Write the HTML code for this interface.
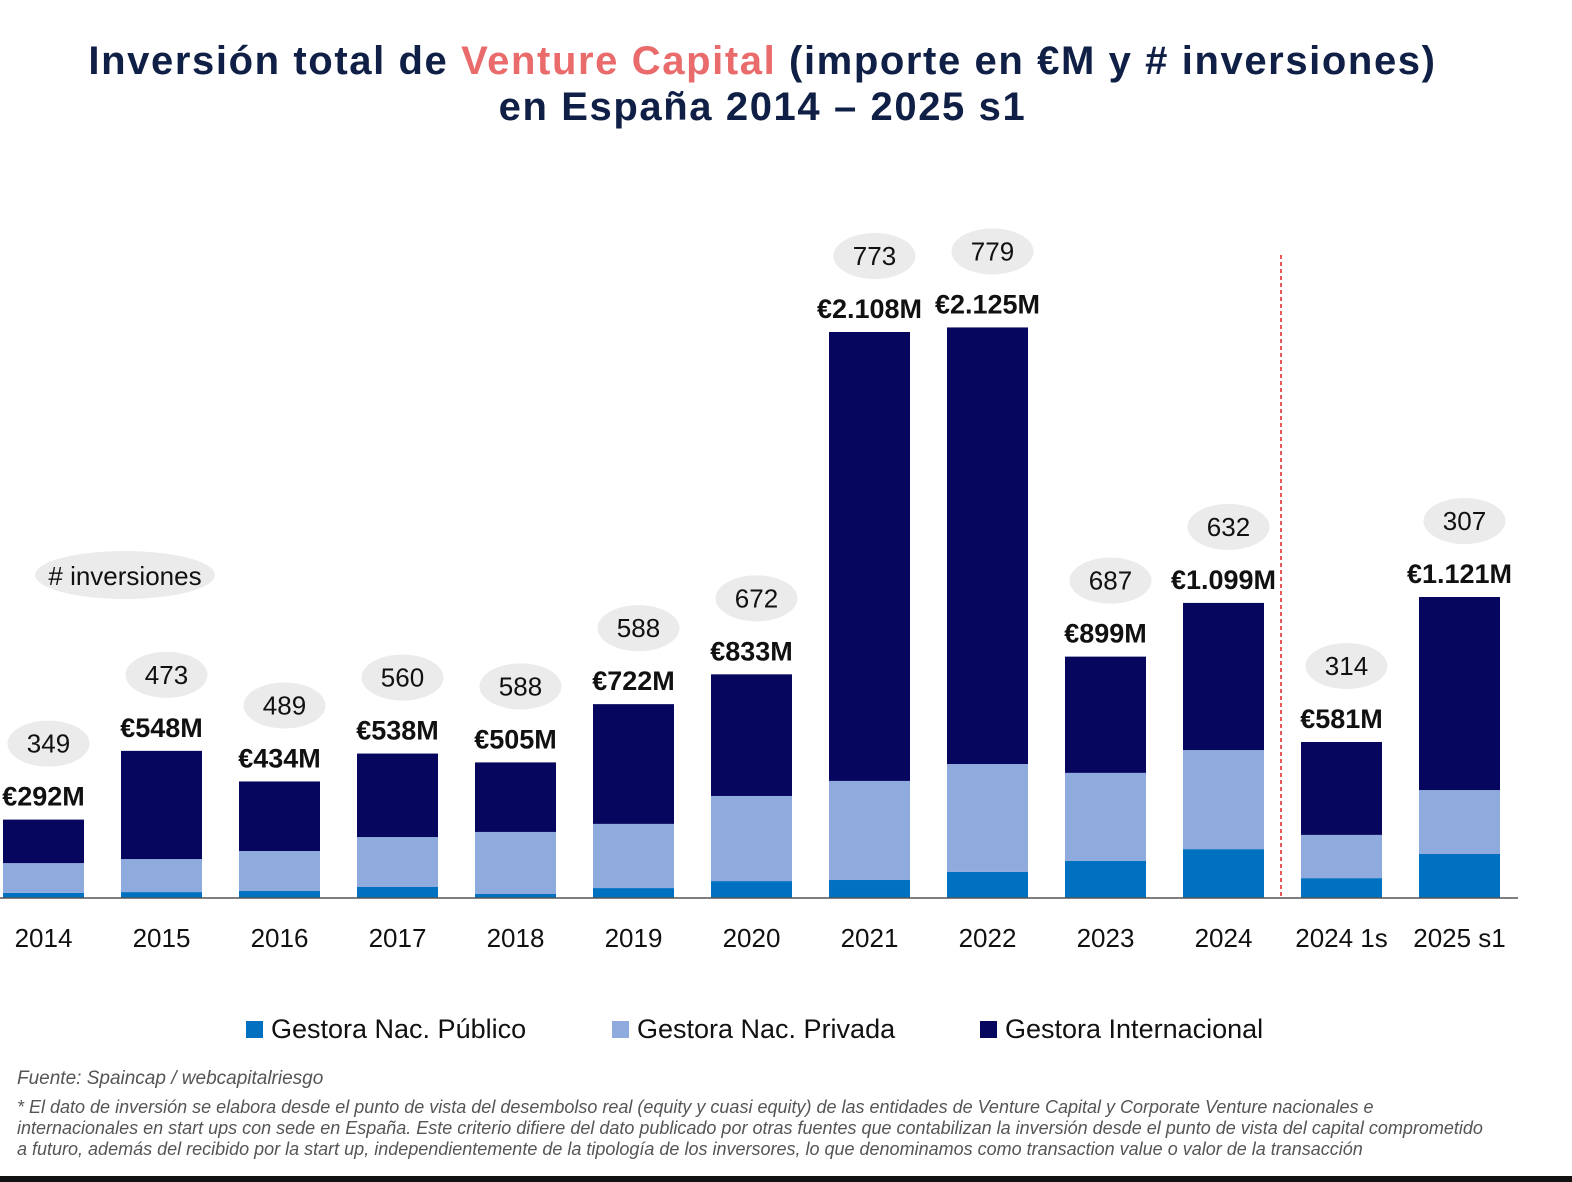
<!DOCTYPE html>
<html><head><meta charset="utf-8"><style>
body{margin:0;width:1572px;height:1182px;background:#fff;overflow:hidden;font-family:"Liberation Sans",sans-serif;position:relative}
.title{position:absolute;left:0;width:1525px;text-align:center;top:38px;font-weight:bold;font-size:40px;letter-spacing:1.6px;color:#0f1f45;line-height:46px}
.title span{color:#ea6b6b}
.note{position:absolute;left:17px;font-style:italic;color:#555;font-size:18px;line-height:21px;width:1475px}
.leg{position:absolute;top:1014px;font-size:27px;color:#111;display:flex;align-items:center}
.leg i{display:inline-block;width:17px;height:17px;margin-right:8px}
</style></head><body>
<div class="title">Inversión total de <span>Venture Capital</span> (importe en €M y # inversiones)<br>en España 2014 – 2025 s1</div>
<svg id="chart" width="1572" height="1000" style="position:absolute;left:0;top:0"></svg>
<div class="leg" style="left:246px"><i style="background:#0070c0"></i>Gestora Nac. Público</div>
<div class="leg" style="left:612px"><i style="background:#8faadc"></i>Gestora Nac. Privada</div>
<div class="leg" style="left:980px"><i style="background:#06065e"></i>Gestora Internacional</div>
<div class="note" style="top:1068px;font-size:19px">Fuente: Spaincap / webcapitalriesgo</div>
<div class="note" style="top:1097px">* El dato de inversión se elabora desde el punto de vista del desembolso real (equity y cuasi equity) de las entidades de Venture Capital y Corporate Venture nacionales e internacionales en start ups con sede en España. Este criterio difiere del dato publicado por otras fuentes que contabilizan la inversión desde el punto de vista del capital comprometido a futuro, además del recibido por la start up, independientemente de la tipología de los inversores, lo que denominamos como transaction value o valor de la transacción</div>
<div style="position:absolute;left:0;top:1176px;width:1572px;height:6px;background:#111"></div>
<script>
const categories=["2014","2015","2016","2017","2018","2019","2020","2021","2022","2023","2024","2024 1s","2025 s1"];
const publico=[19,22,26,41,15,37,63,67,97,138,182,74,164];
const privada=[111,123,149,186,231,239,317,369,402,328,369,161,238];
const internacional=[162,403,259,311,259,446,453,1672,1626,433,548,346,719];
const totals=[292,548,434,538,505,722,833,2108,2125,899,1099,581,1121];
const counts=[349,473,489,560,588,588,672,773,779,687,632,314,307];
const totalLabels=["€292M","€548M","€434M","€538M","€505M","€722M","€833M","€2.108M","€2.125M","€899M","€1.099M","€581M","€1.121M"];
const svg=document.getElementById('chart');const NS="http://www.w3.org/2000/svg";
const base=898,k=0.2685,x0=3,step=118,bw=81;
const y=v=>base-v*k;const xb=i=>x0+i*step;
function mk(t,a,txt){const e=document.createElementNS(NS,t);for(const n in a)e.setAttribute(n,a[n]);if(txt!=null)e.textContent=txt;svg.appendChild(e);return e;}
const colors=["#0070c0","#8faadc","#06065e"];const series=[publico,privada,internacional];const sn=["publico","privada","internacional"];
let e=mk('ellipse',{cx:125,cy:575,rx:90,ry:24,fill:'#ebebeb'});


e=mk('text',{x:125,y:585,'text-anchor':'middle','font-size':26,fill:'#111'},'# inversiones');


categories.forEach((c,i)=>{
 let cum=0;
 series.forEach((s,j)=>{
  const r=mk('rect',{x:xb(i),y:y(cum+s[i]),width:bw,height:s[i]*k,fill:colors[j]});
  
  
  cum+=s[i];
 });
 const cx=xb(i)+bw/2;const ty=y(totals[i])-14;
 let t=mk('text',{x:cx,y:ty,'text-anchor':'middle','font-size':27,'font-weight':'bold',fill:'#111'},totalLabels[i]);
 
 
 const by=ty-62;
 let b=mk('ellipse',{cx:cx+5,cy:by,rx:41,ry:23,fill:'#ebebeb'});
 
 
 t=mk('text',{x:cx+5,y:by+9,'text-anchor':'middle','font-size':26,fill:'#111'},counts[i]);
 
 
 t=mk('text',{x:cx,y:947,'text-anchor':'middle','font-size':26,fill:'#111'},c);
 
 
});
e=mk('line',{x1:0,x2:1518,y1:base,y2:base,stroke:'#555','stroke-width':1.5});


e=mk('line',{x1:1281,x2:1281,y1:255,y2:base,stroke:'#e02020','stroke-width':1.5,'stroke-dasharray':'4,3'});


</script>
</body></html>
